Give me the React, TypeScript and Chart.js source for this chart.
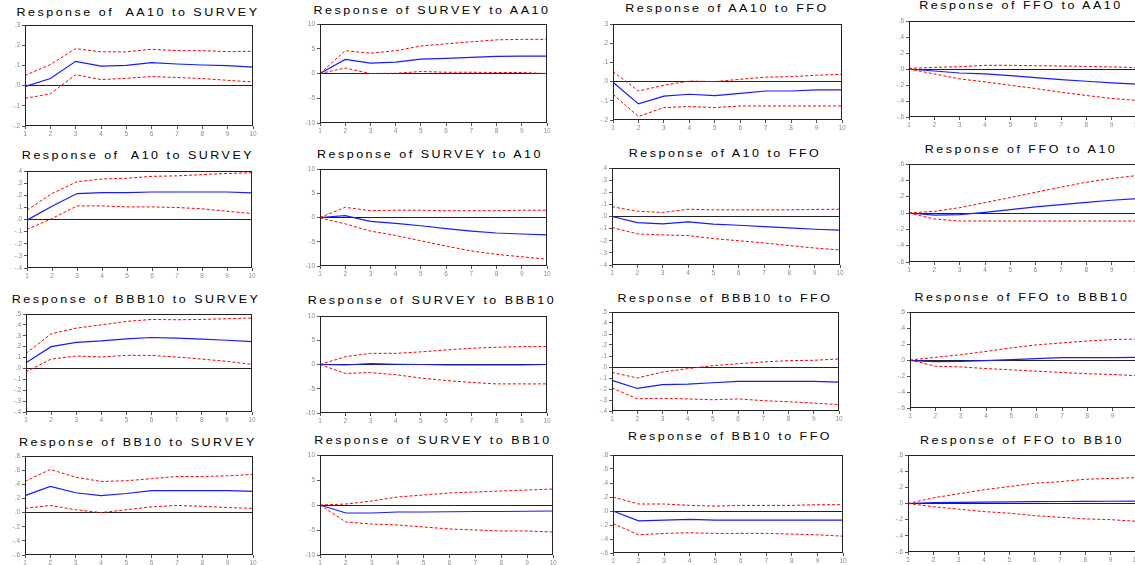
import React, { useEffect, useRef } from 'react';
import { Chart, registerables } from 'chart.js';
Chart.register(...registerables);

const periods = ['1', '2', '3', '4', '5', '6', '7', '8', '9', '10'];

// Row 1
const aa10SurveyResp = [-0.005, 0.035, 0.12, 0.096, 0.1, 0.114, 0.107, 0.102, 0.099, 0.091];
const aa10SurveyUpper = [0.05, 0.104, 0.183, 0.167, 0.167, 0.18, 0.173, 0.173, 0.168, 0.17];
const aa10SurveyLower = [-0.063, -0.041, 0.054, 0.03, 0.036, 0.045, 0.04, 0.035, 0.026, 0.018];

const surveyAa10Resp = [0, 2.85, 2.1, 2.3, 2.9, 3.05, 3.25, 3.45, 3.5, 3.5];
const surveyAa10Upper = [0, 4.6, 4.1, 4.6, 5.55, 6.0, 6.4, 6.8, 6.9, 6.9];
const surveyAa10Lower = [0, 1.1, 0, 0.05, 0.4, 0.25, 0.25, 0.2, 0.2, 0];

const aa10FfoResp = [-0.003, -0.116, -0.076, -0.066, -0.073, -0.061, -0.049, -0.049, -0.043, -0.043];
const aa10FfoUpper = [0.052, -0.049, -0.019, 0.003, 0, 0.012, 0.023, 0.026, 0.033, 0.038];
const aa10FfoLower = [-0.066, -0.182, -0.135, -0.13, -0.135, -0.127, -0.127, -0.127, -0.127, -0.127];

const ffoAa10Resp = [0, -0.025, -0.05, -0.062, -0.083, -0.108, -0.132, -0.153, -0.174, -0.19];
const ffoAa10Upper = [0.008, 0.02, 0.029, 0.046, 0.046, 0.041, 0.037, 0.033, 0.025, 0.02];
const ffoAa10Lower = [0, -0.062, -0.124, -0.161, -0.203, -0.244, -0.29, -0.331, -0.368, -0.393];

// Row 2
const a10SurveyResp = [-0.005, 0.11, 0.214, 0.222, 0.222, 0.227, 0.227, 0.227, 0.227, 0.22];
const a10SurveyUpper = [0.077, 0.214, 0.312, 0.334, 0.34, 0.356, 0.36, 0.37, 0.38, 0.386];
const a10SurveyLower = [-0.082, 0.008, 0.112, 0.112, 0.104, 0.104, 0.099, 0.088, 0.068, 0.049];

const surveyA10Resp = [0, 0.4, -0.8, -1.2, -1.7, -2.3, -2.8, -3.2, -3.4, -3.6];
const surveyA10Upper = [0, 2.1, 1.4, 1.5, 1.5, 1.4, 1.4, 1.4, 1.5, 1.5];
const surveyA10Lower = [-0.1, -1.3, -2.8, -3.7, -4.8, -5.9, -6.9, -7.6, -8.1, -8.6];

const a10FfoResp = [0, -0.05, -0.06, -0.045, -0.063, -0.072, -0.083, -0.094, -0.105, -0.113];
const a10FfoUpper = [0.08, 0.044, 0.033, 0.06, 0.055, 0.055, 0.055, 0.055, 0.058, 0.06];
const a10FfoLower = [-0.091, -0.143, -0.152, -0.157, -0.182, -0.2, -0.218, -0.24, -0.26, -0.276];

const ffoA10Resp = [0, -0.025, -0.02, 0.008, 0.041, 0.074, 0.102, 0.131, 0.156, 0.176];
const ffoA10Upper = [0, 0.02, 0.066, 0.127, 0.189, 0.254, 0.316, 0.377, 0.422, 0.459];
const ffoA10Lower = [0, -0.074, -0.098, -0.098, -0.098, -0.098, -0.098, -0.098, -0.098, -0.098];

// Row 3
const bbb10SurveyResp = [0.052, 0.2, 0.24, 0.253, 0.272, 0.284, 0.278, 0.269, 0.259, 0.247];
const bbb10SurveyUpper = [0.139, 0.318, 0.37, 0.4, 0.432, 0.45, 0.447, 0.45, 0.457, 0.463];
const bbb10SurveyLower = [-0.031, 0.086, 0.114, 0.105, 0.12, 0.12, 0.105, 0.086, 0.065, 0.037];

const surveyBbb10Resp = [0, -0.1, 0.2, 0.05, 0, -0.1, -0.1, -0.1, -0.1, 0];
const surveyBbb10Upper = [0, 1.6, 2.3, 2.3, 2.6, 3.0, 3.35, 3.55, 3.7, 3.7];
const surveyBbb10Lower = [0, -1.85, -1.65, -2.1, -2.8, -3.3, -3.7, -4.0, -4.0, -4.0];

const bbb10FfoResp = [-0.122, -0.195, -0.161, -0.155, -0.143, -0.131, -0.131, -0.131, -0.131, -0.137];
const bbb10FfoUpper = [-0.049, -0.1, -0.046, -0.015, 0.012, 0.03, 0.046, 0.058, 0.061, 0.073];
const bbb10FfoLower = [-0.19, -0.289, -0.285, -0.29, -0.298, -0.29, -0.306, -0.316, -0.328, -0.343];

const ffoBbb10Resp = [-0.008, -0.02, -0.016, -0.008, 0.004, 0.016, 0.029, 0.029, 0.029, 0.033];
const ffoBbb10Upper = [0, 0.033, 0.066, 0.107, 0.152, 0.189, 0.214, 0.238, 0.255, 0.263];
const ffoBbb10Lower = [0, -0.078, -0.086, -0.107, -0.123, -0.14, -0.156, -0.172, -0.181, -0.197];

// Row 4
const bb10SurveyResp = [0.24, 0.37, 0.28, 0.24, 0.27, 0.31, 0.31, 0.31, 0.31, 0.3];
const bb10SurveyUpper = [0.44, 0.61, 0.5, 0.44, 0.45, 0.48, 0.51, 0.51, 0.52, 0.54];
const bb10SurveyLower = [0.06, 0.1, 0.04, 0, 0.04, 0.08, 0.1, 0.09, 0.07, 0.06];

const surveyBb10Resp = [0, -1.6, -1.6, -1.4, -1.4, -1.35, -1.3, -1.3, -1.25, -1.2];
const surveyBb10Upper = [0, 0.2, 0.8, 1.6, 2.0, 2.4, 2.6, 2.8, 3.0, 3.2];
const surveyBb10Lower = [0, -3.4, -3.8, -4.0, -4.4, -4.8, -5.0, -5.2, -5.2, -5.4];

const bb10FfoResp = [0, -0.14, -0.13, -0.12, -0.13, -0.13, -0.13, -0.13, -0.13, -0.13];
const bb10FfoUpper = [0.2, 0.1, 0.1, 0.08, 0.07, 0.08, 0.08, 0.08, 0.09, 0.09];
const bb10FfoLower = [-0.18, -0.34, -0.32, -0.31, -0.32, -0.32, -0.32, -0.33, -0.34, -0.36];

const ffoBb10Resp = [0, 0.01, 0.015, 0.018, 0.02, 0.022, 0.025, 0.027, 0.028, 0.03];
const ffoBb10Upper = [0, 0.07, 0.12, 0.17, 0.21, 0.25, 0.27, 0.3, 0.31, 0.32];
const ffoBb10Lower = [0, -0.04, -0.07, -0.1, -0.12, -0.15, -0.17, -0.19, -0.2, -0.22];

type Spec = {
  title: string;
  resp: number[];
  upper: number[];
  lower: number[];
  min: number;
  max: number;
  step: number;
  integer: boolean;
};

const specs: Spec[] = [
  { title: 'Response of  AA10 to SURVEY', resp: aa10SurveyResp, upper: aa10SurveyUpper, lower: aa10SurveyLower, min: -0.2, max: 0.3, step: 0.1, integer: false },
  { title: 'Response of SURVEY to AA10', resp: surveyAa10Resp, upper: surveyAa10Upper, lower: surveyAa10Lower, min: -10, max: 10, step: 5, integer: true },
  { title: 'Response of AA10 to FFO', resp: aa10FfoResp, upper: aa10FfoUpper, lower: aa10FfoLower, min: -0.2, max: 0.3, step: 0.1, integer: false },
  { title: 'Response of FFO to AA10', resp: ffoAa10Resp, upper: ffoAa10Upper, lower: ffoAa10Lower, min: -0.6, max: 0.6, step: 0.2, integer: false },

  { title: 'Response of  A10 to SURVEY', resp: a10SurveyResp, upper: a10SurveyUpper, lower: a10SurveyLower, min: -0.4, max: 0.4, step: 0.1, integer: false },
  { title: 'Response of SURVEY to A10', resp: surveyA10Resp, upper: surveyA10Upper, lower: surveyA10Lower, min: -10, max: 10, step: 5, integer: true },
  { title: 'Response of A10 to FFO', resp: a10FfoResp, upper: a10FfoUpper, lower: a10FfoLower, min: -0.4, max: 0.4, step: 0.1, integer: false },
  { title: 'Response of FFO to A10', resp: ffoA10Resp, upper: ffoA10Upper, lower: ffoA10Lower, min: -0.6, max: 0.6, step: 0.2, integer: false },

  { title: 'Response of BBB10 to SURVEY', resp: bbb10SurveyResp, upper: bbb10SurveyUpper, lower: bbb10SurveyLower, min: -0.4, max: 0.5, step: 0.1, integer: false },
  { title: 'Response of SURVEY to BBB10', resp: surveyBbb10Resp, upper: surveyBbb10Upper, lower: surveyBbb10Lower, min: -10, max: 10, step: 5, integer: true },
  { title: 'Response of BBB10 to FFO', resp: bbb10FfoResp, upper: bbb10FfoUpper, lower: bbb10FfoLower, min: -0.4, max: 0.5, step: 0.1, integer: false },
  { title: 'Response of FFO to BBB10', resp: ffoBbb10Resp, upper: ffoBbb10Upper, lower: ffoBbb10Lower, min: -0.6, max: 0.6, step: 0.2, integer: false },

  { title: 'Response of BB10 to SURVEY', resp: bb10SurveyResp, upper: bb10SurveyUpper, lower: bb10SurveyLower, min: -0.6, max: 0.8, step: 0.2, integer: false },
  { title: 'Response of SURVEY to BB10', resp: surveyBb10Resp, upper: surveyBb10Upper, lower: surveyBb10Lower, min: -10, max: 10, step: 5, integer: true },
  { title: 'Response of BB10 to FFO', resp: bb10FfoResp, upper: bb10FfoUpper, lower: bb10FfoLower, min: -0.6, max: 0.8, step: 0.2, integer: false },
  { title: 'Response of FFO to BB10', resp: ffoBb10Resp, upper: ffoBb10Upper, lower: ffoBb10Lower, min: -0.6, max: 0.6, step: 0.2, integer: false },
];

// Layout: plot-area boxes and title centres (pixels in the page)
const boxes = [
  { l: 25, t: 25, w: 228, h: 101, tx: 138, ty: 13 },
  { l: 320, t: 24, w: 227, h: 99, tx: 432, ty: 11 },
  { l: 613, t: 24, w: 229, h: 96, tx: 727, ty: 9 },
  { l: 909, t: 21, w: 228, h: 96, tx: 1021, ty: 6 },

  { l: 27, t: 171, w: 225, h: 97, tx: 138, ty: 156 },
  { l: 320, t: 169, w: 227, h: 97, tx: 430, ty: 155 },
  { l: 612, t: 168, w: 228, h: 97, tx: 725, ty: 154 },
  { l: 909, t: 164, w: 228, h: 98, tx: 1021, ty: 150 },

  { l: 26, t: 314, w: 226, h: 98, tx: 136, ty: 300 },
  { l: 320, t: 316, w: 227, h: 97, tx: 432, ty: 301 },
  { l: 612, t: 312, w: 227, h: 99, tx: 725, ty: 299 },
  { l: 910, t: 312, w: 228, h: 96, tx: 1022, ty: 298 },

  { l: 25, t: 456, w: 228, h: 99, tx: 138, ty: 443 },
  { l: 320, t: 455, w: 233, h: 100, tx: 433, ty: 441 },
  { l: 613, t: 455, w: 230, h: 98, tx: 730, ty: 437 },
  { l: 908, t: 455, w: 228, h: 97, tx: 1022, ty: 441 },
];

const YW = 22;
const XH = 12;
const PT = 6;
const PR = 10;
const FONT = "'Liberation Sans', Arial, sans-serif";

const framePlugin = {
  id: 'frame',
  afterDatasetsDraw(chart: any) {
    const { ctx, chartArea: a } = chart;
    ctx.save();
    ctx.strokeStyle = '#222';
    ctx.lineWidth = 1;
    ctx.strokeRect(Math.round(a.left) + 0.5, Math.round(a.top) + 0.5, Math.round(a.width) - 1, Math.round(a.height) - 1);
    ctx.restore();
  },
};

function fmt(v: number, integer: boolean) {
  if (Math.abs(v) < 1e-9) return integer ? '0' : '.0';
  if (integer) return String(Math.round(v));
  const s = Math.abs(v).toFixed(1).replace(/^0/, '');
  return (v < 0 ? '-' : '') + s;
}

function Panel({ spec, box }: { spec: Spec; box: typeof boxes[number] }) {
  const ref = useRef<HTMLCanvasElement | null>(null);
  const W = YW + box.w + PR;
  const H = PT + box.h + XH;
  useEffect(() => {
    if (!ref.current) return;
    const tickFont = { family: FONT, size: 6.5 };
    const chart = new Chart(ref.current, {
      type: 'line',
      data: {
        labels: periods,
        datasets: [
          { data: spec.upper, borderColor: '#ff0000', borderWidth: 1, borderDash: [3, 2], pointRadius: 0, fill: false },
          { data: spec.lower, borderColor: '#ff0000', borderWidth: 1, borderDash: [3, 2], pointRadius: 0, fill: false },
          { data: spec.resp, borderColor: '#1a1aff', borderWidth: 1.2, pointRadius: 0, fill: false },
        ],
      },
      options: {
        animation: false,
        responsive: false,
        layout: { padding: { top: PT, right: PR, left: 0, bottom: 0 } },
        plugins: { legend: { display: false }, tooltip: { enabled: false }, title: { display: false } },
        elements: { line: { tension: 0 } },
        scales: {
          x: {
            type: 'category',
            offset: false,
            border: { display: false },
            grid: { display: true, drawOnChartArea: false, color: 'transparent', tickColor: '#555', tickLength: 3 },
            ticks: { font: tickFont, color: '#8c8c8c', padding: 1, maxRotation: 0, autoSkip: false },
            afterFit: (s: any) => { s.height = XH; },
          },
          y: {
            type: 'linear',
            min: spec.min,
            max: spec.max,
            border: { display: false },
            grid: {
              color: (c: any) => (c.tick && Math.abs(c.tick.value) < 1e-9 ? '#222' : 'transparent'),
              tickColor: '#555',
              tickLength: 3,
              lineWidth: 1,
            },
            ticks: {
              stepSize: spec.step,
              font: tickFont,
              color: '#8c8c8c',
              padding: 2,
              callback: (v: any) => fmt(Number(v), spec.integer),
            },
            afterFit: (s: any) => { s.width = YW; },
          },
        },
      } as any,
      plugins: [framePlugin],
    });
    return () => chart.destroy();
  }, [spec]);
  return (
    <>
      <div
        style={{
          position: 'absolute',
          left: box.tx - 170,
          top: box.ty - 6,
          width: 340,
          textAlign: 'center',
          fontFamily: FONT,
          fontSize: 10,
          lineHeight: '12px',
          letterSpacing: '2px',
          whiteSpace: 'pre',
          color: '#000',
          transform: 'scaleX(1.25)',
        }}
      >
        {spec.title}
      </div>
      <canvas
        ref={ref}
        width={W}
        height={H}
        style={{ position: 'absolute', left: box.l - YW, top: box.t - PT, width: W, height: H }}
      />
    </>
  );
}

export default function App() {
  return (
    <div style={{ position: 'fixed', left: 0, top: 0, width: 1135, height: 565, overflow: 'hidden', background: '#fff' }}>
      {specs.map((s, i) => (
        <Panel key={i} spec={s} box={boxes[i]} />
      ))}
    </div>
  );
}
